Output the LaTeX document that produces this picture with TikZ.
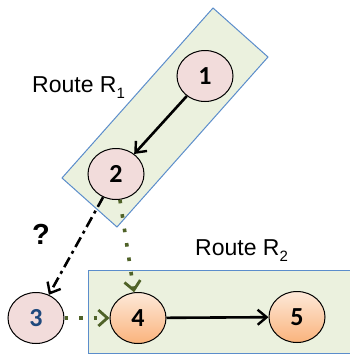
\documentclass[tikz,border=0pt]{standalone}
\usepackage{fontspec}
\setmainfont{Liberation Sans}
\newfontfamily\numfont{Carlito}
\usetikzlibrary{shapes.geometric,arrows.meta}
\definecolor{routefill}{HTML}{EBF1DE}
\definecolor{routeedge}{HTML}{5B8DCB}
\definecolor{stopfill}{HTML}{F2DCDB}
\definecolor{peachtop}{HTML}{FDE9D9}
\definecolor{peachbot}{HTML}{FAB37C}
\definecolor{hopgreen}{HTML}{4F6228}
\definecolor{stopblue}{HTML}{1F497D}
\newcommand{\lowsub}[1]{\raisebox{-0.3em}{\fontsize{15}{15}\selectfont #1}}
\tikzset{
  stop/.style={ellipse, draw=black, line width=1pt, fill=stopfill,
    minimum width=56pt, minimum height=51pt, inner sep=0pt,
    font=\numfont\bfseries\fontsize{26}{26}\selectfont},
  peach/.style={stop, top color=peachtop, bottom color=peachbot},
  route/.style={draw=routeedge, line width=1pt, fill=routefill},
  routelabel/.style={anchor=base west, inner sep=0pt,
    font=\fontsize{23}{25}\selectfont},
  link/.style={line width=2.6pt, -{Straight Barb[length=9pt,width=15pt,line width=2.4pt]}},
  guess/.style={link, dash pattern=on 11pt off 4.5pt on 3pt off 4.5pt},
  hop/.style={draw=hopgreen, line width=3.6pt, dash pattern=on 3.6pt off 11pt,
    -{Straight Barb[length=9pt,width=16pt,line width=2.8pt]}},
}
\begin{document}
\begin{tikzpicture}[x=1pt,y=-1pt]
  \useasboundingbox (0,0) rectangle (349,356);
  % route areas
  \draw[route] (213,8) -- (268,57) -- (117,227) -- (62,178) -- cycle;
  \draw[route] (88,270) rectangle (352,353);
  % stops
  \node[stop] (n1) at (205,76) {1};
  \node[stop] (n2) at (116,174) {2};
  \node[stop, text=stopblue] (n3) at (36,318) {3};
  \node[peach] (n4) at (138,318) {4};
  \node[peach] (n5) at (297,317) {5};
  % labels
  \node[routelabel] (r1) at (32,92) {Route R\lowsub{1}};
  \node[routelabel] (r2) at (195,255) {Route R\lowsub{2}};
  \node[font=\bfseries\fontsize{29}{29}\selectfont] (q) at (41,234) {?};
  % connections
  \draw[link] (n1) -- (n2);
  \draw[link] (n4) -- (n5);
  \draw[guess] (n2) -- (n3);
  \draw[hop] (n2) -- (n4);
  \draw[hop] (n3) -- (n4);
\end{tikzpicture}
\end{document}
